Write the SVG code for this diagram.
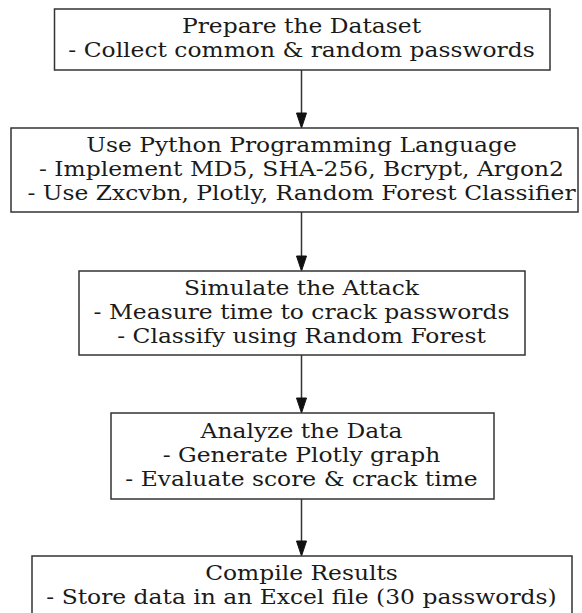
<svg xmlns="http://www.w3.org/2000/svg" width="582" height="613" viewBox="0 0 582 613">
<style>
.box{fill:#ffffff;stroke:#333333;stroke-width:1.5}
.t{font-family:"DejaVu Serif",serif;font-size:20px;fill:#1a1a1a;text-anchor:middle}
.edge{stroke:#333333;stroke-width:1.5;fill:none}
.head{fill:#111111;stroke:#111111;stroke-width:1}
</style>
<rect width="582" height="613" fill="#ffffff"/>
<g id="connectors">
<line class="edge" x1="301.5" y1="70" x2="301.5" y2="113"/>
<polygon class="head" points="296.5,113 306.5,113 301.5,128"/>
<line class="edge" x1="301.5" y1="212" x2="301.5" y2="256"/>
<polygon class="head" points="296.5,256 306.5,256 301.5,271"/>
<line class="edge" x1="301.5" y1="355" x2="301.5" y2="398"/>
<polygon class="head" points="296.5,398 306.5,398 301.5,413"/>
<line class="edge" x1="301.5" y1="499" x2="301.5" y2="541"/>
<polygon class="head" points="296.5,541 306.5,541 301.5,556"/>
</g>
<g id="node1">
<rect class="box" x="54.5" y="9" width="495.5" height="61"/>
<g transform="translate(301.5,0) scale(1.17,1)">
<text class="t" x="0" y="33.5">Prepare the Dataset</text>
<text class="t" x="0" y="57.5">- Collect common &amp; random passwords</text>
</g>
</g>
<g id="node2">
<rect class="box" x="11" y="128" width="567" height="84"/>
<g transform="translate(301.5,0) scale(1.17,1)">
<text class="t" x="0" y="152">Use Python Programming Language</text>
<text class="t" x="0" y="176">- Implement MD5, SHA-256, Bcrypt, Argon2</text>
<text class="t" x="0" y="200">- Use Zxcvbn, Plotly, Random Forest Classifier</text>
</g>
</g>
<g id="node3">
<rect class="box" x="79" y="271" width="446" height="84"/>
<g transform="translate(301.5,0) scale(1.17,1)">
<text class="t" x="0" y="295">Simulate the Attack</text>
<text class="t" x="0" y="319">- Measure time to crack passwords</text>
<text class="t" x="0" y="343">- Classify using Random Forest</text>
</g>
</g>
<g id="node4">
<rect class="box" x="111" y="413" width="383" height="86"/>
<g transform="translate(301.5,0) scale(1.17,1)">
<text class="t" x="0" y="438">Analyze the Data</text>
<text class="t" x="0" y="462">- Generate Plotly graph</text>
<text class="t" x="0" y="486">- Evaluate score &amp; crack time</text>
</g>
</g>
<g id="node5">
<rect class="box" x="32" y="556" width="540" height="80"/>
<g transform="translate(301.5,0) scale(1.17,1)">
<text class="t" x="0" y="580">Compile Results</text>
<text class="t" x="0" y="604">- Store data in an Excel file (30 passwords)</text>
</g>
</g>
</svg>
